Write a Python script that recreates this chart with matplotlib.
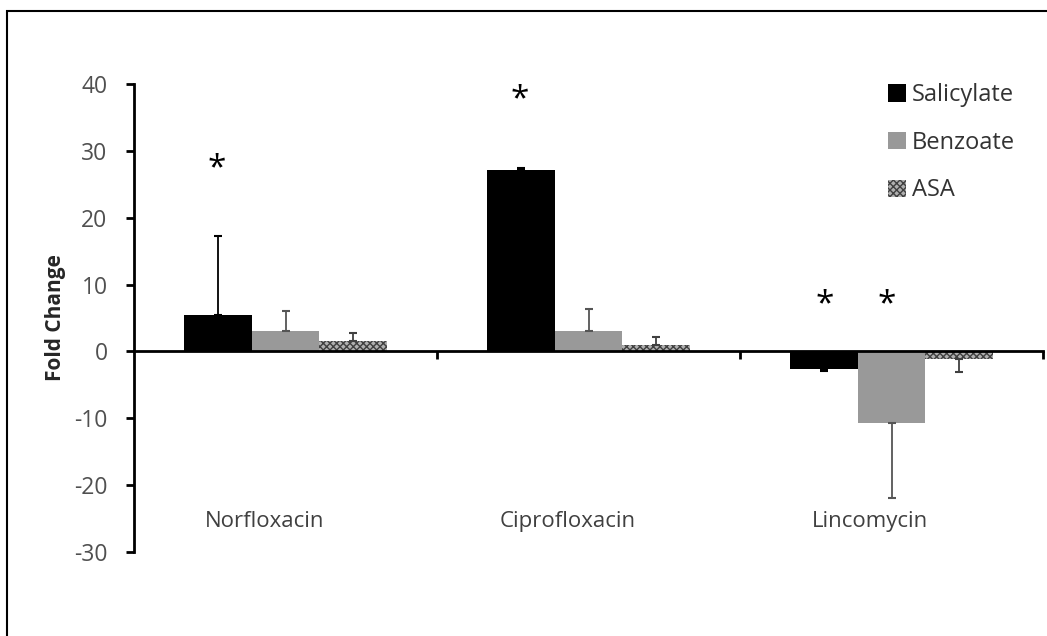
import matplotlib.pyplot as plt
import matplotlib.patches as mpatches
import numpy as np

plt.rcParams['font.family'] = ['Open Sans', 'DejaVu Sans']
plt.rcParams['axes.unicode_minus'] = False

drugs = ['Norfloxacin', 'Ciprofloxacin', 'Lincomycin']
series = ['Salicylate', 'Benzoate', 'ASA']
salicylate = [5.4, 27.2, -2.7]
benzoate = [3.0, 3.0, -10.7]
asa = [1.5, 1.0, -1.2]
salicylate_err = [11.9, 0.2, 0.2]
benzoate_err = [3.0, 3.4, 11.2]
asa_err = [1.3, 1.2, 1.9]
# asterisks: (x in category units, y)
stars = [(-0.226, 27.3), (0.774, 37.7), (1.78, 6.9), (1.985, 6.9)]

fig = plt.figure(figsize=(10.47, 6.36), dpi=100)
ax = fig.add_axes([134/1047, 84/636, 909/1047, 468/636])

x = np.arange(len(drugs))
w = 0.224
vals = [salicylate, benzoate, asa]
errs = [salicylate_err, benzoate_err, asa_err]
faces = ['black', '#999999', '#b0b0b0']
ecols = ['black', '#555555', '#404040']
hatches = [None, None, 'xxxxx']

handles = []
for k in range(3):
    v = np.array(vals[k])
    e = np.array(errs[k])
    pos = x + (k - 1) * w
    b = ax.bar(pos, v, w, color=faces[k], edgecolor=ecols[k] if hatches[k] else faces[k],
               linewidth=0, hatch=hatches[k], zorder=2)
    handles.append(b)
    lower = np.where(v < 0, e, 0)
    upper = np.where(v >= 0, e, 0)
    ax.errorbar(pos, v, yerr=[lower, upper], fmt='none', ecolor=ecols[k],
                elinewidth=1.3, capsize=3, capthick=1.5, zorder=3)

ax.set_xlim(-0.5, 2.5)
ax.set_ylim(-30, 40)
ax.set_yticks(range(-30, 41, 10))
ax.tick_params(axis='y', direction='out', length=6, width=2, colors='black',
               labelcolor='#505050', labelsize=16.5, pad=13)
ax.set_xticks([])
ax.set_xticks([0.5, 1.5, 2.5], minor=True)
ax.tick_params(axis='x', which='minor', direction='out', length=6, width=2)

for s in ['top', 'right']:
    ax.spines[s].set_visible(False)
ax.spines['left'].set_linewidth(2)
ax.spines['bottom'].set_position(('data', 0))
ax.spines['bottom'].set_linewidth(2)
ax.spines['bottom'].set_zorder(4)

for i, d in enumerate(drugs):
    ax.text(i - 0.07, -25.5, d, ha='center', va='center', fontsize=16, color='#404040')

for sx, sy in stars:
    ax.text(sx, sy, '*', ha='center', va='center', fontsize=24, color='black')

ax.set_ylabel('Fold Change', fontsize=15, fontweight='bold', color='#262626', labelpad=6)

ax.legend(handles, series, loc='upper right', bbox_to_anchor=(0.985, 1.032), frameon=False,
          fontsize=17, handlelength=0.75, handleheight=0.75, handletextpad=0.25,
          labelspacing=1.0, labelcolor='#333333', borderaxespad=0.2)

fig.patches.append(mpatches.Rectangle((7/1047, -0.1), 1.2, (636 - 11)/636 + 0.1,
                                      transform=fig.transFigure, fill=False,
                                      edgecolor='black', linewidth=1.5))

fig.savefig('out.png', dpi=100)
